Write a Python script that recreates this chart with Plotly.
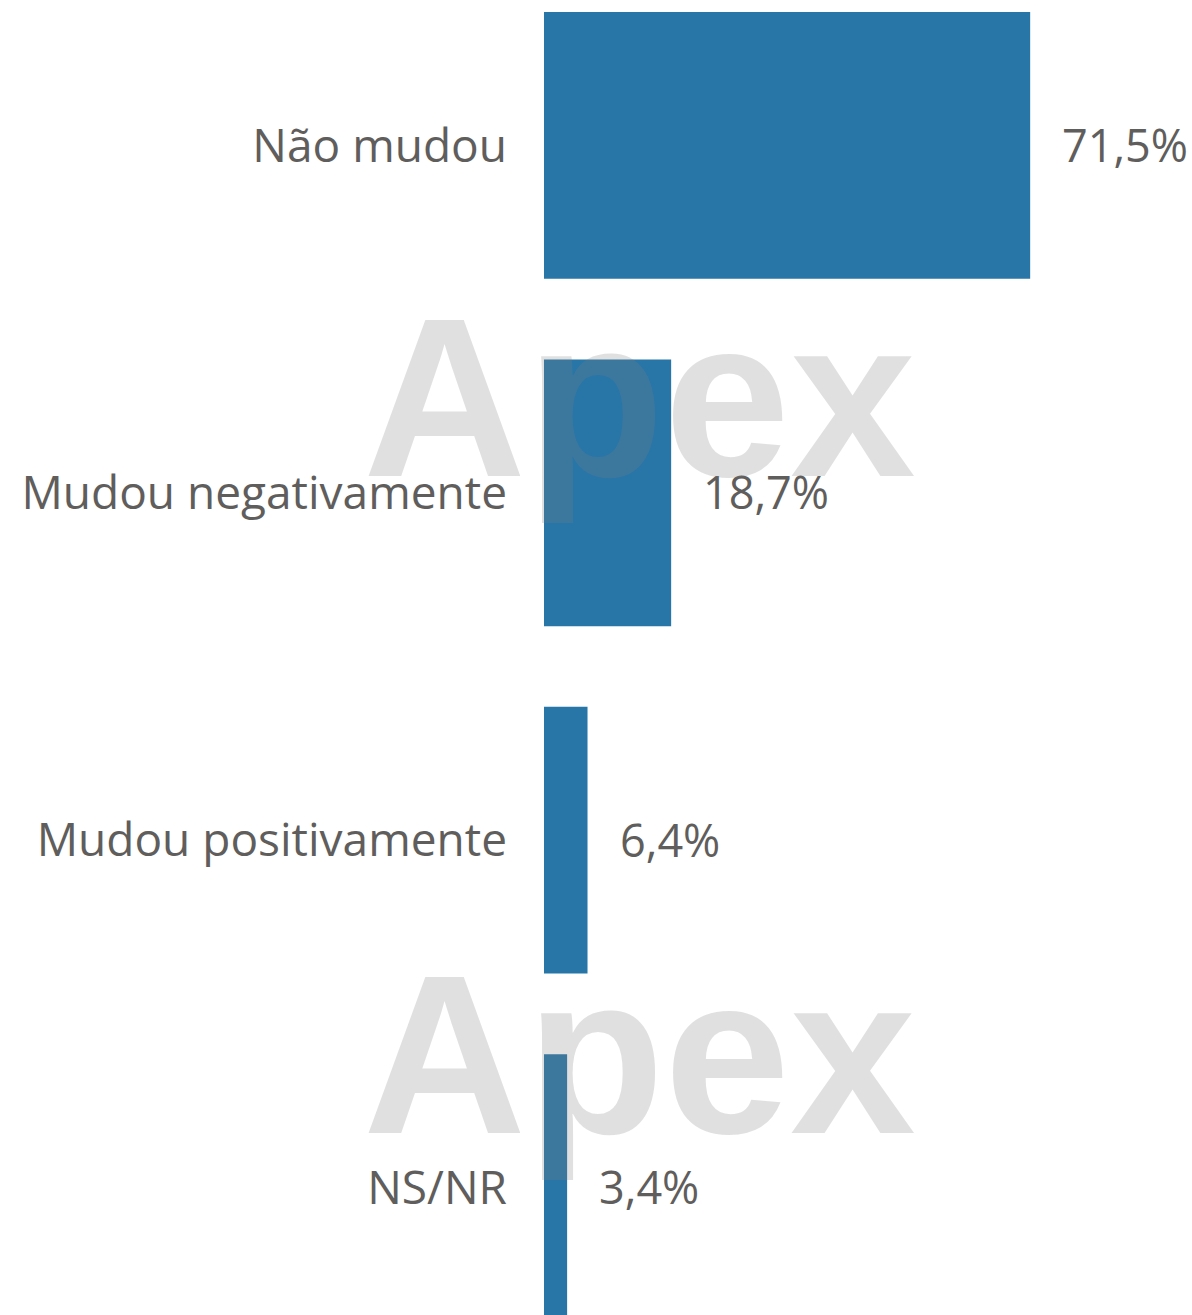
import plotly.graph_objects as go

# Survey answers and their shares (%)
categories = ["Não mudou", "Mudou negativamente", "Mudou positivamente", "NS/NR"]
values = [71.5, 18.7, 6.4, 3.4]
value_labels = [f"{v:.1f}".replace(".", ",") + "%" for v in values]

BAR_COLOR = "#2876A8"
TEXT_COLOR = "#605E5C"
FONT = "Segoe UI, Open Sans, sans-serif"

fig = go.Figure(
    go.Bar(
        x=values,
        y=categories,
        orientation="h",
        marker=dict(color=BAR_COLOR, line=dict(width=0)),
        hoverinfo="skip",
    )
)

# Value labels just past the end of each bar
for cat, v, lab in zip(categories, values, value_labels):
    fig.add_annotation(
        x=v, y=cat, xref="x", yref="y",
        text=lab, showarrow=False,
        xanchor="left", yanchor="middle", xshift=30, yshift=1,
        font=dict(family=FONT, size=45, color=TEXT_COLOR),
    )

# Watermark
for yy in (0.698, 0.198):
    fig.add_annotation(
        x=0.147, y=yy, xref="paper", yref="paper",
        text="<b>Apex</b>", showarrow=False,
        xanchor="center", yanchor="middle",
        font=dict(family="Liberation Sans, Arial, sans-serif", size=226,
                  color="rgba(127,127,127,0.24)"),
    )

fig.update_layout(
    width=1192,
    height=1315,
    margin=dict(l=544, r=0, t=0, b=0),
    paper_bgcolor="white",
    plot_bgcolor="white",
    bargap=0.232,
    showlegend=False,
    font=dict(family=FONT, color=TEXT_COLOR),
    xaxis=dict(range=[0, 95.3], visible=False, fixedrange=True),
    yaxis=dict(
        range=[3.367, -0.4187],
        showgrid=False, zeroline=False, showline=False, ticks="",
        ticklabelstandoff=36,
        tickfont=dict(family=FONT, size=46, color=TEXT_COLOR),
        fixedrange=True,
    ),
)

fig.write_html("out.html", config={"displayModeBar": False})
